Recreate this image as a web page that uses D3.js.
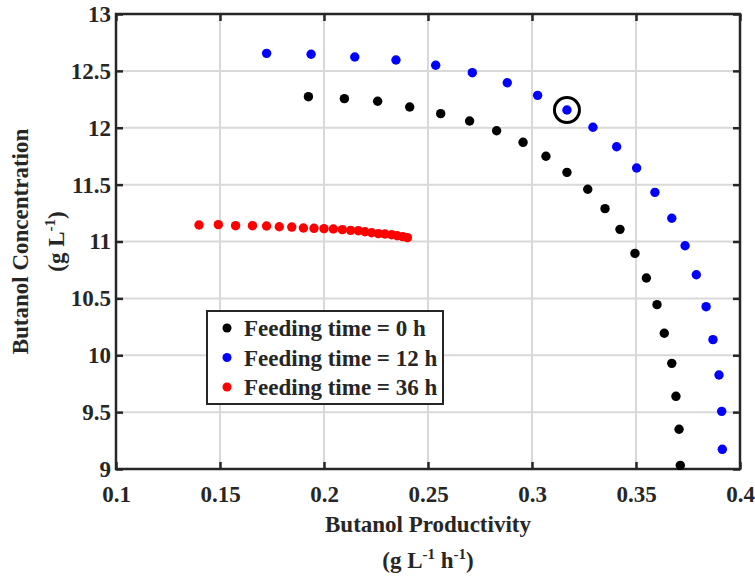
<!DOCTYPE html>
<html>
<head>
<meta charset="utf-8">
<script src="https://cdn.jsdelivr.net/npm/d3@7"></script>
<style>
  body { margin: 0; background: #fff; }
  svg text { font-family: "Liberation Serif", "Times New Roman", serif; font-weight: bold; fill: #262626; }
</style>
</head>
<body>
<script>
var xTicks = [0.1, 0.15, 0.2, 0.25, 0.3, 0.35, 0.4];
var yTicks = [9, 9.5, 10, 10.5, 11, 11.5, 12, 12.5, 13];
var legendLabels = ['Feeding time = 0 h', 'Feeding time = 12 h', 'Feeding time = 36 h'];
var seriesColors = ['#000000', '#0000ff', '#ff0000'];

// feeding time 0 h
var prod0 = [0.1925, 0.2098, 0.2258, 0.2412, 0.2561, 0.2700, 0.2830, 0.2957, 0.3067, 0.3168,
  0.3268, 0.3351, 0.3423, 0.3495, 0.3550, 0.3601, 0.3636, 0.3672, 0.3692, 0.3707, 0.3713];
var conc0 = [12.273, 12.256, 12.233, 12.182, 12.124, 12.059, 11.974, 11.872, 11.749, 11.608,
  11.459, 11.289, 11.107, 10.896, 10.679, 10.445, 10.193, 9.929, 9.639, 9.349, 9.032];

// feeding time 12 h
var prod12 = [0.1724, 0.1938, 0.2148, 0.2346, 0.2537, 0.2713, 0.2881, 0.3027, 0.3168, 0.3293,
  0.3407, 0.3503, 0.3591, 0.3672, 0.3736, 0.3790, 0.3837, 0.3870, 0.3899, 0.3912, 0.3915];
var conc12 = [12.654, 12.646, 12.622, 12.596, 12.549, 12.484, 12.396, 12.285, 12.156, 12.004,
  11.833, 11.646, 11.432, 11.204, 10.963, 10.708, 10.427, 10.137, 9.826, 9.507, 9.173];

// feeding time 36 h
var prod36 = [0.1399, 0.1492, 0.1575, 0.1656, 0.1724, 0.1785, 0.1845, 0.1901, 0.1952, 0.2000,
  0.2045, 0.2088, 0.2128, 0.2165, 0.2197, 0.2229, 0.2261, 0.2293, 0.2325, 0.2352, 0.2378, 0.2401];
var conc36 = [11.145, 11.148, 11.139, 11.139, 11.136, 11.130, 11.127, 11.119, 11.116, 11.113,
  11.110, 11.104, 11.098, 11.095, 11.086, 11.077, 11.069, 11.066, 11.060, 11.051, 11.043, 11.034];

// circled point (index into the 12 h series)
var circledIndex = 8;

var width = 755;
var height = 577;
var margin = { left: 116, right: 15, top: 14, bottom: 108 };
var innerW = width - margin.left - margin.right;
var innerH = height - margin.top - margin.bottom;
var fontSize = '23px';

var series = [
  { x: prod0, y: conc0 },
  { x: prod12, y: conc12 },
  { x: prod36, y: conc36 }
];

var x = d3.scaleLinear().domain([0.1, 0.4]).range([0, innerW]);
var y = d3.scaleLinear().domain([9, 13]).range([innerH, 0]);

function fmt(d) {
  return String(d);
}

var svg = d3.select('body').append('svg')
  .attr('width', width)
  .attr('height', height);

var g = svg.append('g')
  .attr('transform', 'translate(' + margin.left + ',' + margin.top + ')');

// grid
g.append('g').selectAll('line').data(xTicks).enter().append('line')
  .attr('x1', x).attr('x2', x)
  .attr('y1', 0).attr('y2', innerH)
  .attr('stroke', '#d9d9d9').attr('stroke-width', 2);
g.append('g').selectAll('line').data(yTicks).enter().append('line')
  .attr('y1', y).attr('y2', y)
  .attr('x1', 0).attr('x2', innerW)
  .attr('stroke', '#d9d9d9').attr('stroke-width', 2);

// axes, ticks point inward
function styleAxis(sel, showText) {
  sel.select('.domain').remove();
  sel.selectAll('.tick line').attr('stroke', '#262626').attr('stroke-width', 2.5);
  sel.selectAll('.tick text').style('font-size', fontSize).attr('fill', '#262626');
  if (!showText) sel.selectAll('.tick text').remove();
}

g.append('g')
  .attr('transform', 'translate(0,' + innerH + ')')
  .call(d3.axisBottom(x).tickValues(xTicks).tickFormat(fmt).tickSizeInner(-7).tickPadding(17))
  .call(styleAxis, true);
g.append('g')
  .call(d3.axisTop(x).tickValues(xTicks).tickSizeInner(-7))
  .call(styleAxis, false);
g.append('g')
  .call(d3.axisLeft(y).tickValues(yTicks).tickFormat(fmt).tickSizeInner(-7).tickPadding(5))
  .call(styleAxis, true);
g.append('g')
  .attr('transform', 'translate(' + innerW + ',0)')
  .call(d3.axisRight(y).tickValues(yTicks).tickSizeInner(-7))
  .call(styleAxis, false);

g.append('rect')
  .attr('width', innerW).attr('height', innerH)
  .attr('fill', 'none')
  .attr('stroke', '#262626').attr('stroke-width', 2.5);

// points
series.forEach(function(s, i) {
  g.append('g').selectAll('circle').data(s.x).enter().append('circle')
    .attr('cx', function(d) { return x(d); })
    .attr('cy', function(d, j) { return y(s.y[j]); })
    .attr('r', 4.7)
    .attr('fill', seriesColors[i]);
});

// highlight circle
g.append('circle')
  .attr('cx', x(prod12[circledIndex]))
  .attr('cy', y(conc12[circledIndex]))
  .attr('r', 12.5)
  .attr('fill', 'none')
  .attr('stroke', '#000').attr('stroke-width', 3);

// legend
var legend = svg.append('g').attr('transform', 'translate(207,311)');
legend.append('rect')
  .attr('width', 236).attr('height', 93)
  .attr('fill', '#fff')
  .attr('stroke', '#262626').attr('stroke-width', 2);
legendLabels.forEach(function(label, i) {
  var row = legend.append('g').attr('transform', 'translate(0,' + (17 + i * 29.5) + ')');
  row.append('circle').attr('cx', 20).attr('cy', 0).attr('r', 4.5).attr('fill', seriesColors[i]);
  row.append('text').attr('x', 37).attr('y', 0).attr('dy', '0.35em')
    .style('font-size', fontSize).text(label);
});

// axis titles
var cx = margin.left + innerW / 2;
svg.append('text').attr('x', cx).attr('y', height - 45)
  .attr('text-anchor', 'middle').style('font-size', fontSize)
  .text('Butanol Productivity');
var xUnit = svg.append('text').attr('x', cx).attr('y', height - 9)
  .attr('text-anchor', 'middle').style('font-size', fontSize);
xUnit.append('tspan').text('(g L');
xUnit.append('tspan').attr('dy', -9).style('font-size', '15px').text('-1');
xUnit.append('tspan').attr('dy', 9).text(' h');
xUnit.append('tspan').attr('dy', -9).style('font-size', '15px').text('-1');
xUnit.append('tspan').attr('dy', 9).text(')');

var cy = margin.top + innerH / 2;
svg.append('text')
  .attr('transform', 'translate(28,' + cy + ') rotate(-90)')
  .attr('text-anchor', 'middle').style('font-size', fontSize)
  .text('Butanol Concentration');
var yUnit = svg.append('text')
  .attr('transform', 'translate(64,' + cy + ') rotate(-90)')
  .attr('text-anchor', 'middle').style('font-size', fontSize);
yUnit.append('tspan').text('(g L');
yUnit.append('tspan').attr('dy', -9).style('font-size', '15px').text('-1');
yUnit.append('tspan').attr('dy', 9).text(')');
</script>
</body>
</html>
